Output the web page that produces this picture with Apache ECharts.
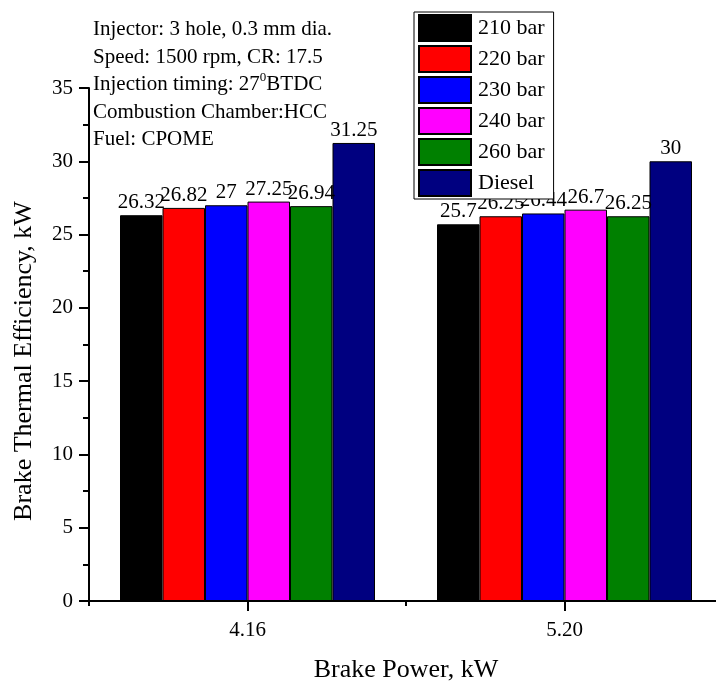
<!DOCTYPE html>
<html>
<head>
<meta charset="utf-8">
<script src="https://cdn.jsdelivr.net/npm/echarts@6/dist/echarts.min.js"></script>
<style>
  html, body { margin: 0; padding: 0; background: #fff; }
  #chart { width: 716px; height: 684px; }
</style>
</head>
<body>
<div id="chart"></div>
<script>
// Brake power levels (x categories)
const categories = ['4.16', '5.20'];

// Brake thermal efficiency for each injection pressure and for diesel
const seriesNames = ['210 bar', '220 bar', '230 bar', '240 bar', '260 bar', 'Diesel'];
const bar210 = [26.32, 25.7];
const bar220 = [26.82, 26.25];
const bar230 = [27, 26.44];
const bar240 = [27.25, 26.7];
const bar260 = [26.94, 26.25];
const diesel = [31.25, 30];
const seriesValues = [bar210, bar220, bar230, bar240, bar260, diesel];

const seriesColors = ['#000000', '#ff0000', '#0000ff', '#ff00ff', '#008000', '#000080'];

// Y axis range
const yMin = 0;
const yMax = 35;
const yStep = 5;

const FONT = "'Liberation Serif', 'Times New Roman', serif";

const chart = echarts.init(document.getElementById('chart'), null, { renderer: 'canvas' });

const series = seriesNames.map((name, i) => ({
  name: name,
  type: 'bar',
  xAxisIndex: 0,
  yAxisIndex: 0,
  data: seriesValues[i],
  barWidth: 42.5,
  barGap: '0%',
  itemStyle: { color: seriesColors[i], borderColor: '#000', borderWidth: 1 },
  label: {
    show: true,
    position: 'top',
    distance: 2,
    color: '#000',
    fontFamily: FONT,
    fontSize: 21,
    formatter: p => String(p.value)
  },
  emphasis: { disabled: true },
  animation: false
}));

const option = {
  animation: false,
  backgroundColor: '#ffffff',
  grid: { left: 89, top: 88, width: 634, bottom: 83, containLabel: false, outerBoundsMode: 'none' },
  legend: {
    orient: 'vertical',
    left: 414,
    top: 12,
    icon: 'rect',
    itemWidth: 52,
    itemHeight: 26,
    itemGap: 3,
    padding: [2, 9, 2, 4],
    borderColor: '#000',
    borderWidth: 1,
    backgroundColor: '#fff',
    textStyle: { fontFamily: FONT, fontSize: 22, color: '#000', padding: [0, 0, 0, 2] },
    data: seriesNames
  },
  xAxis: [
    {
      type: 'category',
      data: categories,
      position: 'bottom',
      name: 'Brake Power, kW',
      nameLocation: 'middle',
      nameGap: 56,
      nameTextStyle: { fontFamily: FONT, fontSize: 26, color: '#000' },
      axisLine: { show: true, lineStyle: { color: '#000', width: 2 } },
      axisTick: { show: true, length: 5, lineStyle: { color: '#000', width: 2 } },
      axisLabel: { fontFamily: FONT, fontSize: 21, color: '#000', margin: 19 },
      splitLine: { show: false }
    },
    {
      // center ticks under each category label
      type: 'category',
      data: categories,
      position: 'bottom',
      axisLine: { show: false },
      axisTick: { show: true, alignWithLabel: true, length: 10, lineStyle: { color: '#000', width: 2 } },
      axisLabel: { show: false },
      splitLine: { show: false }
    }
  ],
  yAxis: {
    type: 'value',
    min: yMin,
    max: yMax,
    interval: yStep,
    name: 'Brake Thermal Efficiency, kW',
    nameLocation: 'middle',
    nameGap: 52,
    nameTextStyle: { fontFamily: FONT, fontSize: 26, color: '#000', padding: [0, 33, 0, 0] },
    axisLine: { show: true, lineStyle: { color: '#000', width: 2 } },
    axisTick: { show: true, length: 10, lineStyle: { color: '#000', width: 2 } },
    minorTick: { show: true, splitNumber: 2, length: 6, lineStyle: { color: '#000', width: 2 } },
    axisLabel: { fontFamily: FONT, fontSize: 21, color: '#000', margin: 16 },
    splitLine: { show: false }
  },
  graphic: [
    {
      type: 'text',
      left: 93,
      top: 19,
      style: {
        text: '{t|Injector: 3 hole, 0.3 mm dia.}\n' +
              '{t|Speed: 1500 rpm, CR: 17.5}\n' +
              '{t|Injection timing: 27}{s|0}{t|BTDC}\n' +
              '{t|Combustion Chamber:HCC}\n' +
              '{t|Fuel: CPOME}',
        rich: {
          t: { fontFamily: FONT, fontSize: 21, lineHeight: 27.5, fill: '#000' },
          s: { fontFamily: FONT, fontSize: 13, lineHeight: 12, verticalAlign: 'top', fill: '#000' }
        }
      }
    }
  ],
  series: series
};

chart.setOption(option);
</script>
</body>
</html>
